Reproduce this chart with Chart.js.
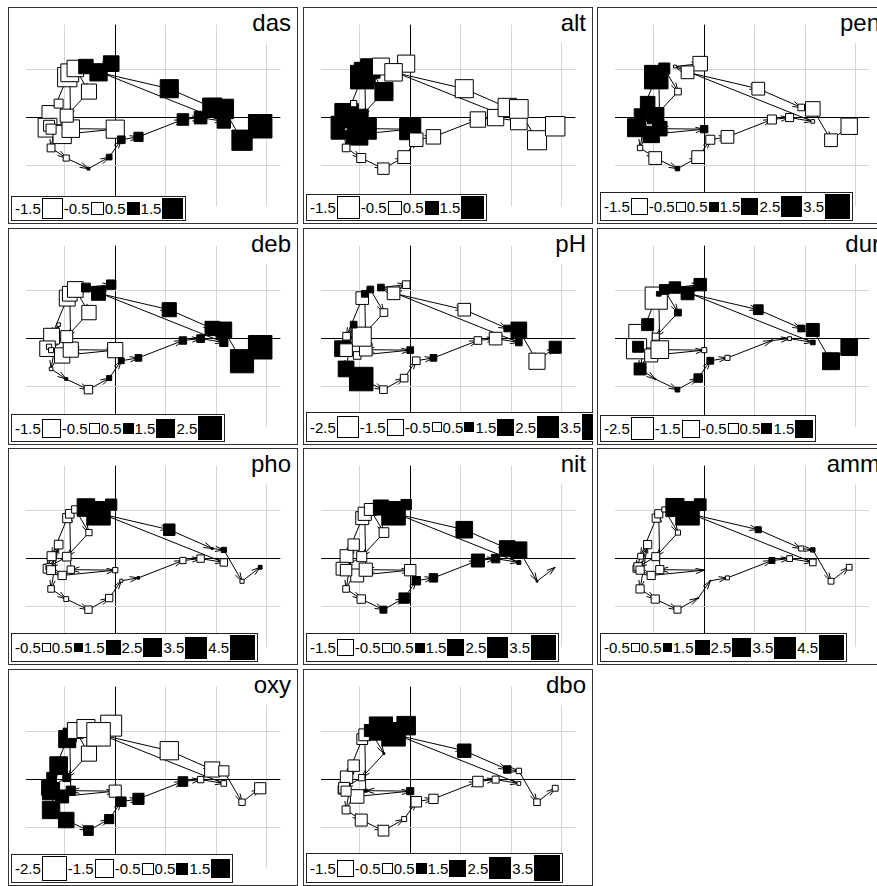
<!DOCTYPE html>
<html>
<head>
<meta charset="utf-8">
<script src="https://cdn.jsdelivr.net/npm/chart.js@4.4.1/dist/chart.umd.min.js"></script>
<style>
  html, body { margin: 0; padding: 0; background: #fff; }
  #board { position: relative; width: 877px; height: 886px; overflow: hidden; }
  .panel { position: absolute; width: 290px; height: 217px; overflow: hidden; }
  .panel canvas { position: absolute; left: 0; top: 0; }
  .ttl { position: absolute; right: 1px; top: 1px; background: #fff; color: #000;
         font: 24px Arial, "Liberation Sans", sans-serif; line-height: 30px; padding: 0 6px 5px 6px; }
  .lgd { position: absolute; left: 3px; bottom: 3px; background: #fff; border: 1px solid #222;
         display: flex; align-items: center; padding: 1px 2px; white-space: nowrap;
         font: 15px Arial, "Liberation Sans", sans-serif; color: #000; }
  .lgd .t { padding: 0 1px; }
  .lgd .q { display: inline-block; box-sizing: border-box; border: 1px solid #000; flex: none; }
</style>
</head>
<body>
<div id="board"></div>
<script>
// site coordinates (grid units), sites 1..30 in river order
const siteX = [-0.95, -1.26, -1.34, -1.05, 0.00, -0.88, -0.90, -0.79, -0.52, -0.96,
               -1.31, -1.27, -1.12, -1.27, -0.97, -0.53, -0.12, 0.12, 0.46, 1.34,
               1.69, 2.15, -0.58, -0.08, -0.33, 1.07, 1.92, 2.15, 2.51, 2.87];
const siteY = [0.84, 0.05, -0.21, -0.35, -0.24, -0.23, 0.93, 1.02, 0.54, 0.04,
               -0.17, -0.24, 0.29, -0.63, -0.84, -1.06, -0.82, -0.46, -0.40, -0.04,
               0.00, -0.08, 1.06, 1.12, 0.94, 0.60, 0.21, 0.18, -0.47, -0.18];

// standardized values
const das = [-1.39, -1.38, -1.32, -1.25, -1.23, -1.15, -1.19, -1.02, -0.85, -0.64, -0.45, -0.38, -0.30, -0.23, -0.14,
             0.03, 0.12, 0.22, 0.32, 0.50, 0.60, 0.67, 0.78, 0.92, 1.12, 1.23, 1.35, 1.42, 1.54, 2.07];
const alt = [1.70, 1.69, 1.62, 1.40, 1.38, 1.37, 1.35, 1.16, 1.01, 0.51, 0.01, -0.02, -0.12, -0.18, -0.25,
             -0.40, -0.50, -0.56, -0.64, -0.73, -0.82, -0.85, -0.88, -0.90, -0.94, -1.00, -1.03, -1.07, -1.12, -1.16];
const pen = [3.4, 1.0, 2.0, 1.65, 0.33, 1.3, 1.0, 0.74, -0.27, 1.65, 1.0, 0.8, 1.3, -0.18, -1.0,
             0.12, -1.0, -0.5, -1.0, -0.5, -0.4, -0.08, -0.05, -1.3, -1.0, -1.0, -0.27, -1.3, -1.0, -1.65];
const deb = [-1.20, -1.19, -1.15, -1.11, -1.10, -1.09, -1.02, -1.17, -0.98, -0.69, -0.13, -0.12, -0.06, -0.06, 0.04,
             -0.34, 0.12, 0.16, 0.21, 0.26, 0.28, 0.32, 0.37, 0.42, 0.93, 0.95, 0.98, 1.18, 2.56, 2.63];
const pH  = [-0.93, -0.34, 1.44, -0.34, 0.26, -0.93, 0.26, 0.26, -0.34, -2.12, 0.26, -0.93, 0.26, 1.44, 3.22,
             -0.34, -0.34, -0.34, 0.26, -0.34, -0.93, 0.26, 0.26, -0.34, -0.93, -0.93, 0.26, 1.44, -1.52, 0.85];
const dur = [-2.48, -2.78, -2.05, -0.85, -0.13, -1.57, 0.11, 0.48, 0.23, -0.25, 0.60, -0.01, 0.72, 0.72, -0.01,
             0.11, 0.36, 0.23, -0.13, -0.01, -0.07, 0.11, 0.66, 0.78, 0.84, 0.48, 0.23, 0.84, 1.44, 1.38];
const pho = [-0.64, -0.62, -0.59, -0.53, -0.21, -0.42, -0.57, -0.42, -0.30, -0.58, -0.30, -0.60, -0.58, -0.33, -0.18,
             -0.42, -0.42, -0.07, 0.05, -0.30, -0.42, -0.42, 2.37, 0.98, 4.25, 1.01, 0.03, 0.21, -0.13, 0.11];
const nit = [-1.04, -1.04, -1.02, -1.03, -0.80, -1.07, -1.07, -0.88, -0.58, -0.63, 0.00, -0.81, -0.80, -0.27, -0.44,
             0.30, 0.67, 0.44, 0.44, 1.04, 0.44, 0.10, 1.41, 0.67, 3.41, 1.70, 1.50, 1.60, 0.02, 0.00];
const amm = [-0.52, -0.26, -0.39, -0.52, 0.01, -0.52, -0.52, -0.20, -0.20, -0.50, -0.52, -0.52, -0.52, -0.52, -0.52,
             -0.39, 0.01, 0.01, -0.12, 0.28, -0.26, -0.34, 2.55, 1.08, 4.29, 0.28, -0.20, 0.15, -0.26, -0.26];
const oxy = [1.29, 0.41, 0.51, 0.74, -0.65, 0.37, 0.78, -1.11, -1.01, 0.28, 0.97, 1.29, 1.38, 1.34, 1.06,
             0.41, 0.37, 0.41, 0.55, 0.41, -0.18, -0.14, -1.43, -1.94, -2.44, -1.47, -1.01, -0.46, -0.18, -0.55];
const dbo = [-0.64, -0.85, -0.43, -1.01, 0.28, 0.05, -0.77, 0.78, 0.02, -0.22, -0.64, -0.56, -0.72, -0.35, -0.79,
             -0.64, -0.14, -0.61, -0.48, -0.61, -0.27, -0.08, 2.97, 1.89, 3.05, 0.99, 0.31, -0.16, -0.24, -0.19];

// legend breaks
const brDas = [-1.5, -0.5, 0.5, 1.5];
const brAlt = [-1.5, -0.5, 0.5, 1.5];
const brPen = [-1.5, -0.5, 0.5, 1.5, 2.5, 3.5];
const brDeb = [-1.5, -0.5, 0.5, 1.5, 2.5];
const brPH  = [-2.5, -1.5, -0.5, 0.5, 1.5, 2.5, 3.5];
const brDur = [-2.5, -1.5, -0.5, 0.5, 1.5];
const brPho = [-0.5, 0.5, 1.5, 2.5, 3.5, 4.5];
const brNit = [-1.5, -0.5, 0.5, 1.5, 2.5, 3.5];
const brAmm = [-0.5, 0.5, 1.5, 2.5, 3.5, 4.5];
const brOxy = [-2.5, -1.5, -0.5, 0.5, 1.5];
const brDbo = [-1.5, -0.5, 0.5, 1.5, 2.5, 3.5];

const panels = [
  ['das', das, brDas], ['alt', alt, brAlt], ['pen', pen, brPen],
  ['deb', deb, brDeb], ['pH', pH, brPH], ['dur', dur, brDur],
  ['pho', pho, brPho], ['nit', nit, brNit], ['amm', amm, brAmm],
  ['oxy', oxy, brOxy], ['dbo', dbo, brDbo]
];

const W = 290, H = 217;
const UNIT = 57.5;           // px per grid unit
const OX = 102, OY = 111;    // origin inside a panel
const SQ_MAX = 23.5;         // side of the largest square
const HEAD = 9, ANG = 0.3;

function side(z, zmax) { return SQ_MAX * Math.sqrt(Math.abs(z) / zmax); }

const trajPlugin = {
  id: 'traj',
  afterDatasetDraw(chart, args) {
    if (args.index !== 1) return;
    const { ctx, scales: { x, y } } = chart;
    ctx.save();
    ctx.strokeStyle = '#000';
    ctx.lineWidth = 1;
    for (let i = 0; i < siteX.length - 1; i++) {
      const x0 = x.getPixelForValue(siteX[i]), y0 = y.getPixelForValue(siteY[i]);
      const x1 = x.getPixelForValue(siteX[i + 1]), y1 = y.getPixelForValue(siteY[i + 1]);
      const a = Math.atan2(y1 - y0, x1 - x0);
      ctx.beginPath();
      ctx.moveTo(x1 - HEAD * Math.cos(a - ANG), y1 - HEAD * Math.sin(a - ANG));
      ctx.lineTo(x1, y1);
      ctx.lineTo(x1 - HEAD * Math.cos(a + ANG), y1 - HEAD * Math.sin(a + ANG));
      ctx.stroke();
    }
    ctx.restore();
  }
};

const framePlugin = {
  id: 'frame',
  afterDraw(chart) {
    const ctx = chart.ctx;
    ctx.save();
    ctx.strokeStyle = '#333';
    ctx.lineWidth = 1;
    ctx.strokeRect(0.5, 0.5, chart.width - 1, chart.height - 1);
    ctx.restore();
  }
};

const board = document.getElementById('board');

panels.forEach(([name, vals, breaks], k) => {
  const col = k % 3, row = Math.floor(k / 3);
  const div = document.createElement('div');
  div.className = 'panel';
  div.style.left = Math.round(8 + col * 294.5) + 'px';
  div.style.top = Math.round(7 + row * 220.5) + 'px';
  board.appendChild(div);

  const cv = document.createElement('canvas');
  cv.width = W; cv.height = H;
  div.appendChild(cv);

  const zmax = Math.max(...vals.map(Math.abs));
  const pts = siteX.map((x, i) => ({ x: x, y: siteY[i] }));

  new Chart(cv, {
    type: 'scatter',
    data: {
      datasets: [
        {
          data: pts,
          pointStyle: 'rect',
          pointRadius: vals.map(v => side(v, zmax) / Math.SQRT2),
          pointHoverRadius: vals.map(v => side(v, zmax) / Math.SQRT2),
          pointBackgroundColor: vals.map(v => v >= 0 ? '#000' : '#fff'),
          pointBorderColor: '#000',
          pointBorderWidth: 1
        },
        {
          data: pts,
          showLine: true,
          pointRadius: 0,
          borderColor: '#000',
          borderWidth: 1,
          tension: 0
        }
      ]
    },
    options: {
      responsive: false,
      animation: false,
      devicePixelRatio: 1,
      layout: { padding: 0 },
      events: [],
      plugins: { legend: { display: false }, tooltip: { enabled: false } },
      scales: {
        x: {
          type: 'linear',
          min: -OX / UNIT, max: (W - OX) / UNIT,
          ticks: { display: false, stepSize: 1, includeBounds: false },
          grid: { drawTicks: false, lineWidth: 1, color: c => (c.tick && c.tick.value === 0) ? '#000' : '#d6d6d6' },
          border: { display: false }
        },
        y: {
          type: 'linear',
          min: -(H - OY) / UNIT, max: OY / UNIT,
          ticks: { display: false, stepSize: 1, includeBounds: false },
          grid: { drawTicks: false, lineWidth: 1, color: c => (c.tick && c.tick.value === 0) ? '#000' : '#d6d6d6' },
          border: { display: false }
        }
      }
    },
    plugins: [trajPlugin, framePlugin]
  });

  const ttl = document.createElement('div');
  ttl.className = 'ttl';
  ttl.textContent = name;
  div.appendChild(ttl);

  const lg = document.createElement('div');
  lg.className = 'lgd';
  breaks.forEach(b => {
    const t = document.createElement('span');
    t.className = 't';
    t.textContent = String(b);
    lg.appendChild(t);
    const q = document.createElement('span');
    q.className = 'q';
    const s = Math.round(side(b, zmax)) + 1;
    q.style.width = s + 'px';
    q.style.height = s + 'px';
    q.style.background = b < 0 ? '#fff' : '#000';
    lg.appendChild(q);
  });
  div.appendChild(lg);
});
</script>
</body>
</html>
